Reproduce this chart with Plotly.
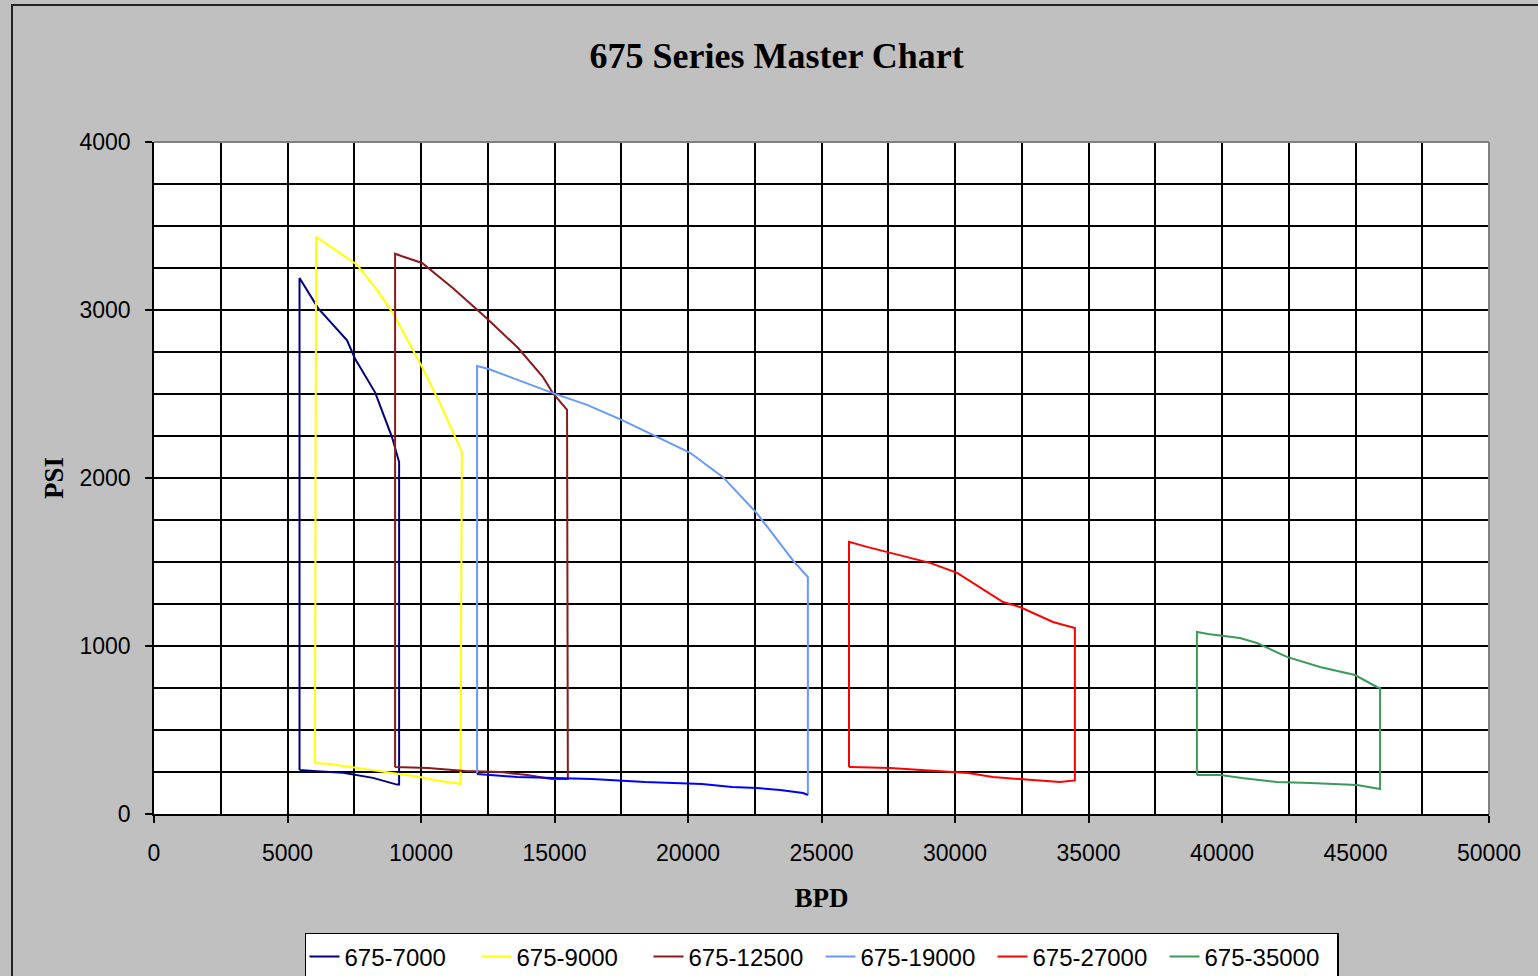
import plotly.graph_objects as go

# ---- data ----
series_names = ["675-7000", "675-9000", "675-12500", "675-19000", "675-27000", "675-35000"]
series_colors = ["#000080", "#FFFF00", "#8B1A1A", "#6699FF", "#FF0000", "#3A9A5C"]

s7000_x = [5450, 5450, 6150, 7230, 7530, 8280, 8910, 9180, 9180, 9100, 8200, 7080, 6100, 5450]
s7000_y = [262, 3190, 3010, 2820, 2710, 2510, 2245, 2095, 175, 175, 215, 245, 255, 262]

s9000_x = [6030, 6070, 7600, 8350, 8950, 9960, 10710, 11530, 11480, 10600, 9960, 8840, 7450, 6590, 6030]
s9000_y = [304, 3435, 3270, 3120, 2980, 2685, 2445, 2155, 180, 200, 220, 245, 275, 298, 304]

s12500_x = [9030, 9030, 9290, 10040, 11200, 12470, 13630, 14570, 14940, 15470, 15500, 14900, 13970, 12960, 11650, 10260, 9030]
s12500_y = [280, 3335, 3320, 3280, 3130, 2950, 2775, 2600, 2505, 2405, 208, 208, 232, 250, 256, 274, 280]

s19000_top_x = [12100, 12100, 12510, 14940, 16220, 17530, 18840, 20080, 21310, 22580, 23930, 24490, 24490]
s19000_top_y = [238, 2667, 2650, 2505, 2435, 2345, 2245, 2150, 2005, 1790, 1510, 1410, 113]
s19000_bottom_x = [24490, 24310, 23450, 22580, 21650, 20520, 18390, 16400, 13600, 12100]
s19000_bottom_y = [113, 125, 143, 155, 161, 179, 190, 208, 220, 238]

s27000_x = [26030, 26030, 26700, 27570, 29060, 30080, 30940, 31800, 32430, 33670, 34490, 34490, 33930, 32550, 31420, 30490, 29180, 27570, 26070, 26030]
s27000_y = [280, 1620, 1590, 1555, 1495, 1435, 1350, 1262, 1232, 1143, 1107, 200, 190, 208, 220, 244, 256, 274, 280, 280]

s35000_x = [39060, 39060, 39480, 40040, 40670, 41310, 42430, 43670, 44980, 45800, 45920, 45920, 45060, 43300, 42060, 40750, 39930, 39060]
s35000_y = [232, 1083, 1071, 1060, 1048, 1018, 935, 875, 827, 756, 750, 149, 173, 185, 190, 214, 232, 232]

series_data = [
    (s7000_x, s7000_y),
    (s9000_x, s9000_y),
    (s12500_x, s12500_y),
    (s19000_top_x, s19000_top_y),
    (s27000_x, s27000_y),
    (s35000_x, s35000_y),
]
bottom_19000_color = "#0000FF"

fig = go.Figure()
for name, color, (xs, ys) in zip(series_names, series_colors, series_data):
    fig.add_trace(go.Scatter(x=xs, y=ys, mode="lines", name=name,
                             line=dict(color=color, width=2), legendgroup=name))
    if name == "675-19000":
        fig.add_trace(go.Scatter(x=s19000_bottom_x, y=s19000_bottom_y, mode="lines",
                                 line=dict(color=bottom_19000_color, width=2),
                                 showlegend=False, legendgroup=name))

tick_font = dict(family="Liberation Sans", size=23, color="black")

fig.update_layout(
    width=1538, height=976,
    paper_bgcolor="#C0C0C0", plot_bgcolor="white",
    margin=dict(l=154, r=49, t=142, b=162, autoexpand=False),
    title=dict(text="<b>675 Series Master Chart</b>", x=0.505, xanchor="center",
               y=1 - 55 / 976, yanchor="middle", yref="container",
               font=dict(family="Liberation Serif", size=36, color="black")),
    showlegend=True,
    legend=dict(orientation="h", x=0.5, xanchor="center", y=-0.177, yanchor="top",
                bgcolor="white", bordercolor="black", borderwidth=1.5,
                font=dict(family="Liberation Sans", size=24, color="black"),
                tracegroupgap=0, itemwidth=30, entrywidth=127, entrywidthmode="pixels"),
    xaxis=dict(range=[0, 50000], dtick=5000, tick0=0, tickformat="d",
               showgrid=True, gridcolor="black", gridwidth=1.5,
               minor=dict(dtick=2500, showgrid=True, gridcolor="black", gridwidth=1.5, ticks=""),
               showline=True, linecolor="black", linewidth=1.5,
               ticks="outside", ticklen=7, tickcolor="black", tickwidth=1.5,
               zeroline=False, tickfont=tick_font, ticklabelstandoff=11,
               title=dict(text="<b>BPD</b>", standoff=23,
                          font=dict(family="Liberation Serif", size=27, color="black"))),
    yaxis=dict(range=[0, 4000], dtick=1000, tick0=0, tickformat="d",
               showgrid=True, gridcolor="black", gridwidth=1.5,
               minor=dict(dtick=250, showgrid=True, gridcolor="black", gridwidth=1.5, ticks=""),
               showline=True, linecolor="black", linewidth=1.5,
               ticks="outside", ticklen=7, tickcolor="black", tickwidth=1.5,
               zeroline=False, tickfont=tick_font, ticklabelstandoff=10,
               title=dict(text="<b>PSI</b>", standoff=8,
                          font=dict(family="Liberation Serif", size=27, color="black"))),
    shapes=[
        # grey plot-area frame on top and right
        dict(type="line", xref="paper", yref="paper", x0=0, x1=1, y0=1, y1=1,
             line=dict(color="#808080", width=2), layer="above"),
        dict(type="line", xref="paper", yref="paper", x0=1, x1=1, y0=0, y1=1,
             line=dict(color="#808080", width=2), layer="above"),
        # outer chart border
        dict(type="rect", xref="paper", yref="paper",
             x0=(12 - 154) / 1335, x1=(1545 - 154) / 1335,
             y0=(814 - 985) / 672, y1=(814 - 5) / 672,
             line=dict(color="#222222", width=2), layer="below"),
    ],
)

fig.write_html("out.html", config={"displayModeBar": False},
               post_script="document.body.style.margin='0';document.body.style.overflow='hidden';")
